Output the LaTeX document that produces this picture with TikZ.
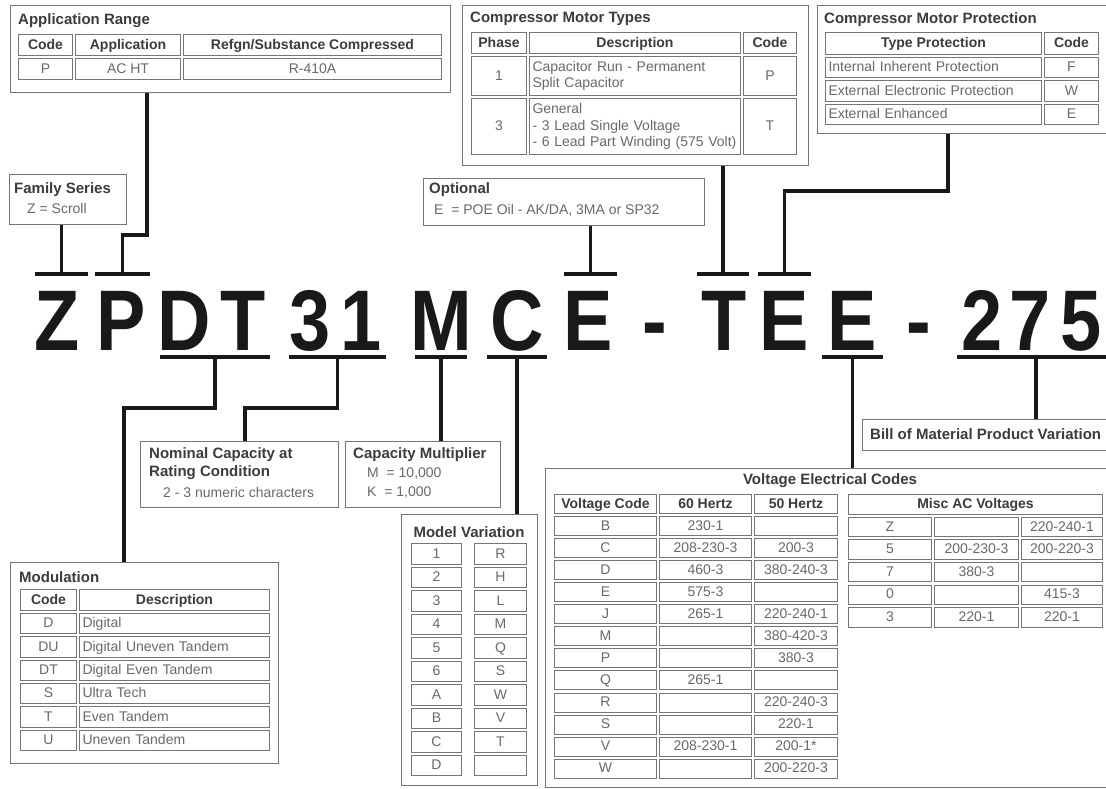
\documentclass[tikz,border=0pt]{standalone}
\usepackage{fontspec}
\setmainfont{Liberation Sans}
\usepackage{graphicx}
\usetikzlibrary{positioning,calc}
\definecolor{framegray}{RGB}{118,118,118}
\definecolor{textgray}{RGB}{105,105,105}
\definecolor{headgray}{RGB}{60,60,60}

\begin{document}
\begin{tikzpicture}[
    x=1pt, y=-1pt,
    every node/.style={font=\fontsize{14}{16.5}\selectfont},
    frame/.style={rectangle, draw=framegray, line width=1.3pt, fill=white,
                  inner sep=0pt, anchor=north west},
    tcell/.style={rectangle, draw=framegray, line width=0.9pt, inner sep=0pt,
                  text=textgray, align=center},
    cell/.style={tcell, text height=9.5pt, text depth=1pt},
    hcell/.style={cell, text=headgray, font=\fontsize{14}{16.5}\selectfont\bfseries},
    lcell/.style={cell, inner xsep=3pt, align=left},
    mcell/.style={tcell, inner xsep=3pt, align=left},
    title/.style={inner sep=0pt, anchor=west, text=headgray,
                  font=\fontsize{15}{18}\selectfont\bfseries},
    body/.style={inner sep=0pt, anchor=west, text=textgray},
    glyph/.style={inner sep=0pt, anchor=base, text=black!90,
                  font=\fontsize{86}{86}\selectfont\bfseries},
    bar/.style={rectangle, fill=black!90, inner sep=0pt, minimum height=4.5pt},
    conn/.style={line width=3.6pt, draw=black!90}
]
\useasboundingbox (0,0) rectangle (1106,788);

% Frames
\node[frame, minimum width=440, minimum height=87]  (apr)  at (10,5)    {};
\node[frame, minimum width=346, minimum height=160] (cmt)  at (462,5)   {};
\node[frame, minimum width=300, minimum height=128] (cmp)  at (817,5)   {};
\node[frame, minimum width=117, minimum height=50]  (fam)  at (9,174)   {};
\node[frame, minimum width=281, minimum height=47]  (opt)  at (423,178) {};
\node[frame, minimum width=198, minimum height=66]  (nom)  at (140,441) {};
\node[frame, minimum width=155, minimum height=66]  (mul)  at (345,441) {};
\node[frame, minimum width=250, minimum height=31]  (bom)  at (862,419) {};
\node[frame, minimum width=268, minimum height=201] (mod)  at (10,562)  {};
\node[frame, minimum width=136, minimum height=271] (mvar) at (401,514) {};
\node[frame, minimum width=570, minimum height=319] (volt) at (545,468) {};

% Application Range
\node[title] (aprt) at (18,21) {Application Range};
\node[hcell, minimum width=54,  minimum height=21] (ar-h1) at (45.5,45)  {Code};
\node[hcell, minimum width=105, minimum height=21] (ar-h2) at (128,45)   {Application};
\node[hcell, minimum width=258, minimum height=21] (ar-h3) at (312.5,45) {Refgn/Substance Compressed};
\node[cell,  minimum width=54,  minimum height=21] (ar-r1) at (45.5,69)  {P};
\node[cell,  minimum width=105, minimum height=21] (ar-r2) at (128,69)   {AC HT};
\node[cell,  minimum width=258, minimum height=21] (ar-r3) at (312.5,69) {R-410A};

% Compressor Motor Types
\node[title] (cmtt) at (470,19) {Compressor Motor Types};
\node[hcell, minimum width=55,  minimum height=21] (mt-h1) at (499,43) {Phase};
\node[hcell, minimum width=211, minimum height=21] (mt-h2) at (635,43) {Description};
\node[hcell, minimum width=53,  minimum height=21] (mt-h3) at (770,43) {Code};
\node[cell,  minimum width=55,  minimum height=39] (mt-1a) at (499,76) {1};
\node[mcell, text width=205,    minimum height=39] (mt-1b) at (635,76)
     {Capacitor Run - Permanent\\Split Capacitor};
\node[cell,  minimum width=53,  minimum height=39] (mt-1c) at (770,76) {P};
\node[cell,  minimum width=55,  minimum height=56] (mt-2a) at (499,126.5) {3};
\node[mcell, text width=205,    minimum height=56] (mt-2b) at (635,126.5)
     {General\\- 3 Lead Single Voltage\\- 6 Lead Part Winding (575 Volt)};
\node[cell,  minimum width=53,  minimum height=56] (mt-2c) at (770,126.5) {T};

% Compressor Motor Protection
\node[title] (cmpt) at (824,20) {Compressor Motor Protection};
\node[hcell, minimum width=216, minimum height=21.5] (mp-h1) at (933.5,43.25)  {Type Protection};
\node[hcell, minimum width=54,  minimum height=21.5] (mp-h2) at (1071.5,43.25) {Code};
\foreach \va/\vb [count=\ri] in {Internal Inherent Protection/F,
    External Electronic Protection/W, External Enhanced/E} {
  \node[lcell, text width=210, minimum height=20.5] (mp-\ri a)
       at (933.5,{55.5+23.5*(\ri-0.5)}) {\va};
  \node[cell, minimum width=54, minimum height=20.5] (mp-\ri b)
       at (1071.5,{55.5+23.5*(\ri-0.5)}) {\vb};
}

% Family Series / Optional
\node[title] (famt) at (14,190) {Family Series};
\node[body]  (famv) at (27,208) {Z = Scroll};
\node[title] (optt) at (429,190) {Optional};
\node[body]  (optv) at (434,210) {E \ = POE Oil - AK/DA, 3MA or SP32};

% Nominal Capacity / Capacity Multiplier / Bill of Material
\node[title] (nom1) at (149,455) {Nominal Capacity at};
\node[title] (nom2) at (149,473) {Rating Condition};
\node[body]  (nom3) at (163,492) {2 - 3 numeric characters};
\node[title] (mul1) at (353,455) {Capacity Multiplier};
\node[body]  (mul2) at (367,473) {M \ = 10,000};
\node[body]  (mul3) at (367,492) {K \ = 1,000};
\node[title] (bomt) at (870,434) {Bill of Material Product Variation};

% Modulation
\node[title] (modt) at (19,577) {Modulation};
\node[hcell, minimum width=56,  minimum height=21] (md-h1) at (48.5,600)  {Code};
\node[hcell, minimum width=190, minimum height=21] (md-h2) at (174.5,600) {Description};
\foreach \va/\vb [count=\ri] in {D/Digital, DU/Digital Uneven Tandem,
    DT/Digital Even Tandem, S/Ultra Tech, T/Even Tandem, U/Uneven Tandem} {
  \node[cell, minimum width=56, minimum height=20.3] (md-\ri a)
       at (48.5,{612+23.33*(\ri-0.5)}) {\va};
  \node[lcell, text width=184, minimum height=20.3] (md-\ri b)
       at (174.5,{612+23.33*(\ri-0.5)}) {\vb};
}

% Model Variation
\node[title, anchor=center] (mvt) at (469,532) {Model Variation};
\foreach \va/\vb [count=\ri] in {1/R, 2/H, 3/L, 4/M, 5/Q, 6/S, A/W, B/V, C/T, D/{}} {
  \node[cell, minimum width=50, minimum height=20.5] (mv-\ri a)
       at (436.5,{542+23.5*(\ri-0.5)}) {\va};
  \node[cell, minimum width=52, minimum height=20.5] (mv-\ri b)
       at (500.5,{542+23.5*(\ri-0.5)}) {\vb};
}

% Voltage Electrical Codes
\node[title, anchor=center] (vtt) at (830,481) {Voltage Electrical Codes};
\node[hcell, minimum width=102, minimum height=19] (vt-h1) at (605.5,504) {Voltage Code};
\node[hcell, minimum width=92,  minimum height=19] (vt-h2) at (705.5,504) {60 Hertz};
\node[hcell, minimum width=83,  minimum height=19] (vt-h3) at (796,504)   {50 Hertz};
\foreach \va/\vb/\vc [count=\ri] in {B/230-1/{}, C/208-230-3/200-3,
    D/460-3/380-240-3, E/575-3/{}, J/265-1/220-240-1, M/{}/380-420-3,
    P/{}/380-3, Q/265-1/{}, R/{}/220-240-3, S/{}/220-1, V/208-230-1/200-1*,
    W/{}/200-220-3} {
  \node[cell, minimum width=102, minimum height=19] (vt-\ri a)
       at (605.5,{493+22.05*(\ri+0.5)}) {\va};
  \node[cell, minimum width=92, minimum height=19] (vt-\ri b)
       at (705.5,{493+22.05*(\ri+0.5)}) {\vb};
  \node[cell, minimum width=83, minimum height=19] (vt-\ri c)
       at (796,{493+22.05*(\ri+0.5)}) {\vc};
}
\node[hcell, minimum width=254, minimum height=19.5] (ma-h) at (975.5,504.3) {Misc AC Voltages};
\foreach \va/\vb/\vc [count=\ri] in {Z/{}/220-240-1, 5/200-230-3/200-220-3,
    7/380-3/{}, 0/{}/415-3, 3/220-1/220-1} {
  \node[cell, minimum width=83, minimum height=19.5] (ma-\ri a)
       at (890,{493+22.6*(\ri+0.5)}) {\va};
  \node[cell, minimum width=84, minimum height=19.5] (ma-\ri b)
       at (976.5,{493+22.6*(\ri+0.5)}) {\vb};
  \node[cell, minimum width=81, minimum height=19.5] (ma-\ri c)
       at (1062,{493+22.6*(\ri+0.5)}) {\vc};
}

% Model number
\foreach \gl/\gx [count=\k] in {Z/57, P/121, D/184, T/243, 3/310, 1/361,
    M/441, C/517, E/588, -/655, T/724, E/784, E/852, -/919, 2/982, 7/1030, 5/1081}
  \node[glyph] (g\k) at (\gx,350) {\scalebox{0.86}[1]{\gl}};

% Bars over and under the letters
\node[bar, minimum width=53]  (obZ)   at (61.5,274)  {};
\node[bar, minimum width=55]  (obP)   at (122.5,274) {};
\node[bar, minimum width=53]  (obE)   at (590.5,274) {};
\node[bar, minimum width=52]  (obT)   at (723,274)   {};
\node[bar, minimum width=53]  (obE2)  at (784.5,274) {};
\node[bar, minimum width=110] (ubDT)  at (215,357)   {};
\node[bar, minimum width=97]  (ub31)  at (337.5,357) {};
\node[bar, minimum width=52]  (ubM)   at (441,357)   {};
\node[bar, minimum width=60]  (ubC)   at (517,357)   {};
\node[bar, minimum width=61]  (ubE)   at (852.5,357) {};
\node[bar, minimum width=152] (ub275) at (1033,357)  {};

% Connectors
\coordinate (kP)  at (147,235);
\coordinate (kE)  at (948,191);
\coordinate (kDT) at (124,408);
\coordinate (k31) at (245,408);
\draw[conn] (obZ.north) -- (obZ.north |- fam.south);
\draw[conn] (kP |- apr.south) -- (kP) -| (obP.north);
\draw[conn] (obE.north) -- (obE.north |- opt.south);
\draw[conn] (obT.north) -- (obT.north |- cmt.south);
\draw[conn] (kE |- cmp.south) -- (kE) -| (obE2.north);
\draw[conn] (ubDT.south) |- (kDT) -- (kDT |- mod.north);
\draw[conn] (ub31.south) |- (k31) -- (k31 |- nom.north);
\draw[conn] (ubM.south) -- (ubM.south |- mul.north);
\draw[conn] (ubC.south) -- (ubC.south |- mvar.north);
\draw[conn] (ubE.south) -- (ubE.south |- volt.north);
\draw[conn] ([xshift=3pt]ub275.south) -- ([xshift=3pt]ub275.south |- bom.north);

\end{tikzpicture}
\end{document}
